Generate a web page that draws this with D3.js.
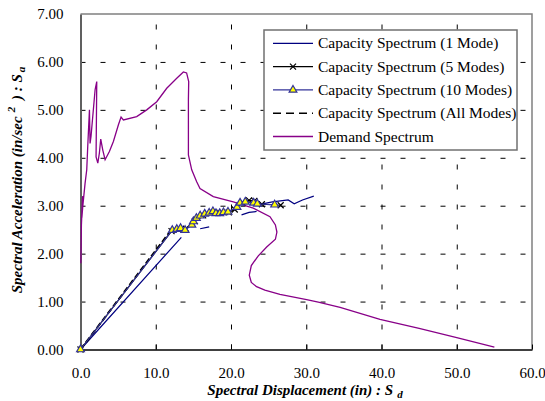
<!DOCTYPE html>
<html>
<head>
<meta charset="utf-8">
<script src="https://cdn.jsdelivr.net/npm/d3@7"></script>
<style>
    body { margin: 0; background: #fff; }
    svg { display: block; }
    svg text { font-family: "Liberation Serif", "Times New Roman", Times, "DejaVu Serif", serif; }
</style>
</head>
<body>
<svg id="chart"></svg>
<script>
// axis ticks
const xTicks = [0, 10, 20, 30, 40, 50, 60];
const yTicks = [0, 1, 2, 3, 4, 5, 6, 7];

const seriesNames = [
    'Capacity Spectrum (1 Mode)',
    'Capacity Spectrum (5 Modes)',
    'Capacity Spectrum (10 Modes)',
    'Capacity Spectrum (All Modes)',
    'Demand Spectrum'
];

// [Sd, Sa] pairs, null = gap in the line
const capacity1Mode = [[0, 0], [13.4, 2.34], null, [15.9, 2.52], [17.1, 2.56], null,
    [21.4, 2.81], [22.4, 2.86], [23.4, 2.88], null,
    [24.2, 3.04], [25.5, 3.08], [27.6, 3.12], [28.4, 3.04], [29.5, 3.12], [31.0, 3.20]];

const capacity5Modes = [[0, 0], [12.1, 2.47], [13.0, 2.50], [14.0, 2.52], [15.2, 2.68], [16.3, 2.80],
    [17.5, 2.86], [18.6, 2.85], [19.7, 2.86], [20.5, 2.92], [21.5, 3.07], [22.4, 3.11],
    [23.1, 3.10], [24.1, 3.03], [26.6, 3.01]];

const capacity10Modes = [[0, 0], [12.2, 2.49], [12.8, 2.51], [13.3, 2.53], [13.9, 2.49], [14.8, 2.60],
    [15.0, 2.67], [15.4, 2.74], [15.9, 2.79], [16.5, 2.83], [17.1, 2.85], [17.6, 2.88],
    [18.0, 2.84], [18.5, 2.84], [19.0, 2.86], [19.6, 2.87], [20.8, 2.97], [21.2, 3.06],
    [21.9, 3.08], [23.0, 3.06], [23.5, 3.04], [25.8, 3.02]];

const capacityAllModes = [[0, 0], [11.9, 2.46], [12.6, 2.50]];

const demandSpectrum = [[0.05, 1.80], [0.12, 2.60], [0.28, 3.20], [0.18, 2.75], [0.30, 2.98],
    [0.61, 3.47], [0.83, 3.75], [0.96, 4.23], [1.19, 5.00], [1.27, 4.30], [1.40, 4.45],
    [1.94, 5.42], [2.16, 5.59], [2.07, 4.02], [2.30, 3.89], [2.51, 4.10], [2.69, 4.39],
    [2.96, 4.16], [3.27, 3.96], [3.84, 4.13], [4.37, 4.34], [5.04, 4.69], [5.39, 4.85],
    [5.70, 4.79], [7.47, 4.86], [8.80, 5.00], [10.13, 5.17], [11.46, 5.45], [12.79, 5.66],
    [13.67, 5.79], [14.10, 5.77], [14.38, 5.59], [14.34, 5.21], [14.34, 4.06], [14.78, 3.75],
    [15.44, 3.50], [15.88, 3.36], [17.65, 3.19], [20.30, 3.08], [22.96, 2.95], [25.18, 2.77],
    [25.90, 2.60], [26.10, 2.45], [25.90, 2.30], [24.74, 2.14], [23.60, 1.95], [22.70, 1.75],
    [22.43, 1.55], [22.70, 1.40], [23.40, 1.31], [24.50, 1.24], [26.50, 1.15], [30.05, 1.04],
    [31.60, 0.99], [34.50, 0.88], [39.80, 0.63], [45.00, 0.44], [50.00, 0.25], [55.00, 0.05]];

const SERIF = '"Liberation Serif", "Times New Roman", Times, "DejaVu Serif", serif';

class SpectrumChart {
    constructor(_config) {
        this.config = {
            parentElement: _config.parentElement,
            containerWidth: _config.containerWidth || 545,
            containerHeight: _config.containerHeight || 401
        }
        this.config.margin = _config.margin || { top: 14, bottom: 51.5, right: 13, left: 80.5 };
    }

    initVis() {
        let vis = this;
        let m = vis.config.margin;

        vis.width = vis.config.containerWidth - m.left - m.right;
        vis.height = vis.config.containerHeight - m.top - m.bottom;

        vis.svg = d3.select(vis.config.parentElement)
            .attr('width', vis.config.containerWidth)
            .attr('height', vis.config.containerHeight)
            .attr('font-family', SERIF);

        vis.chart = vis.svg.append('g')
            .attr('transform', `translate(${m.left},${m.top})`);

        vis.xScale = d3.scaleLinear().domain([0, 60]).range([0, vis.width]);
        vis.yScale = d3.scaleLinear().domain([0, 7]).range([vis.height, 0]);

        vis.render();
    }

    render() {
        let vis = this;
        let x = vis.xScale, y = vis.yScale;

        // dashed grid
        let gy = vis.chart.append('g')
            .attr('class', 'grid-y')
            .call(d3.axisLeft(y).tickValues(yTicks.slice(1, -1)).tickSize(-vis.width).tickFormat(''));
        gy.select('.domain').remove();
        gy.selectAll('text').remove();
        gy.selectAll('line').attr('stroke', '#000').attr('stroke-dasharray', '5,15');

        let gx = vis.chart.append('g')
            .attr('class', 'grid-x')
            .attr('transform', `translate(0,${vis.height})`)
            .call(d3.axisBottom(x).tickValues(xTicks.slice(1, -1)).tickSize(-vis.height).tickFormat(''));
        gx.select('.domain').remove();
        gx.selectAll('text').remove();
        gx.selectAll('line').attr('stroke', '#000').attr('stroke-dasharray', '5,15');

        // top / right frame
        vis.chart.append('path')
            .attr('d', `M0,0H${vis.width}V${vis.height}`)
            .attr('fill', 'none')
            .attr('stroke', '#808080')
            .attr('stroke-width', 1.5);

        // x axis
        let xAxis = vis.chart.append('g')
            .attr('transform', `translate(0,${vis.height})`)
            .call(d3.axisBottom(x).tickValues(xTicks).tickFormat(d3.format('.1f'))
                .tickSizeInner(-5).tickSizeOuter(0).tickPadding(17.5));
        xAxis.attr('font-family', SERIF);
        xAxis.select('.domain').attr('stroke', '#000').attr('stroke-width', 1.5);
        xAxis.selectAll('text').attr('font-size', 15).attr('fill', '#000');

        // y axis
        let yAxis = vis.chart.append('g')
            .call(d3.axisLeft(y).tickValues(yTicks).tickFormat(d3.format('.2f'))
                .tickSize(0).tickPadding(17));
        yAxis.attr('font-family', SERIF);
        yAxis.select('.domain').attr('stroke', '#606060').attr('stroke-width', 2);
        yAxis.selectAll('text').attr('font-size', 15).attr('fill', '#000');

        let line = d3.line()
            .defined(d => d !== null)
            .x(d => x(d[0]))
            .y(d => y(d[1]));

        // demand
        vis.chart.append('path')
            .datum(demandSpectrum)
            .attr('d', line)
            .attr('fill', 'none')
            .attr('stroke', '#880088')
            .attr('stroke-width', 1.3);

        // 1 mode
        vis.chart.append('path')
            .datum(capacity1Mode)
            .attr('d', line)
            .attr('fill', 'none')
            .attr('stroke', '#000080')
            .attr('stroke-width', 1.2);

        // 5 modes
        vis.chart.append('path')
            .datum(capacity5Modes)
            .attr('d', line)
            .attr('fill', 'none')
            .attr('stroke', '#000')
            .attr('stroke-width', 1.2);
        vis.chart.selectAll('.mark-x')
            .data(capacity5Modes)
            .join('path')
            .attr('class', 'mark-x')
            .attr('transform', d => `translate(${x(d[0])},${y(d[1])})`)
            .attr('d', 'M-3,-3L3,3M-3,3L3,-3')
            .attr('stroke', '#000')
            .attr('stroke-width', 1.2);

        // all modes
        vis.chart.append('path')
            .datum(capacityAllModes)
            .attr('d', line)
            .attr('fill', 'none')
            .attr('stroke', '#000')
            .attr('stroke-width', 2)
            .attr('stroke-dasharray', '6,3');

        // 10 modes
        vis.chart.append('path')
            .datum(capacity10Modes)
            .attr('d', line)
            .attr('fill', 'none')
            .attr('stroke', '#333399')
            .attr('stroke-width', 1.2);
        vis.chart.selectAll('.mark-tri')
            .data(capacity10Modes)
            .join('path')
            .attr('class', 'mark-tri')
            .attr('transform', d => `translate(${x(d[0])},${y(d[1])})`)
            .attr('d', d3.symbol(d3.symbolTriangle).size(26))
            .attr('fill', '#ffff00')
            .attr('stroke', '#333399')
            .attr('stroke-width', 1.2);

        vis.renderLegend();
        vis.renderTitles();
    }

    renderLegend() {
        let vis = this;
        let lg = vis.svg.append('g').attr('transform', 'translate(264,30)');

        lg.append('rect')
            .attr('width', 253).attr('height', 120)
            .attr('fill', '#fff')
            .attr('stroke', '#707070')
            .attr('stroke-width', 1.5);

        let styles = [
            { stroke: '#000080', dash: null, mark: null },
            { stroke: '#000', dash: null, mark: 'x' },
            { stroke: '#333399', dash: null, mark: 'tri' },
            { stroke: '#000', dash: '8,5', mark: null },
            { stroke: '#880088', dash: null, mark: null }
        ];

        let rows = lg.selectAll('.row')
            .data(seriesNames)
            .join('g')
            .attr('class', 'row')
            .attr('transform', (d, i) => `translate(0,${13.3 + i * 23.3})`);

        rows.append('line')
            .attr('x1', 9).attr('x2', 49)
            .attr('stroke', (d, i) => styles[i].stroke)
            .attr('stroke-width', (d, i) => i == 3 ? 1.5 : 1.3)
            .attr('stroke-dasharray', (d, i) => styles[i].dash);

        rows.filter((d, i) => styles[i].mark == 'x')
            .append('path')
            .attr('transform', 'translate(29,0)')
            .attr('d', 'M-3,-3L3,3M-3,3L3,-3')
            .attr('stroke', '#000').attr('stroke-width', 1.2);

        rows.filter((d, i) => styles[i].mark == 'tri')
            .append('path')
            .attr('transform', 'translate(29,0)')
            .attr('d', d3.symbol(d3.symbolTriangle).size(26))
            .attr('fill', '#ffff00').attr('stroke', '#333399').attr('stroke-width', 1.2);

        rows.append('text')
            .attr('x', 54)
            .attr('dy', '0.33em')
            .attr('font-size', 15.5)
            .attr('font-family', SERIF)
            .text(d => d);
    }

    renderTitles() {
        let vis = this;

        let xt = vis.svg.append('text')
            .attr('x', 305).attr('y', 395)
            .attr('text-anchor', 'middle')
            .attr('font-family', SERIF)
            .attr('font-size', 15)
            .attr('font-weight', 'bold')
            .attr('font-style', 'italic');
        xt.append('tspan').text('Spectral Displacement (in) : S');
        xt.append('tspan').attr('dx', 4).attr('dy', 3).attr('font-size', 11).text('d');

        let yt = vis.svg.append('text')
            .attr('transform', 'translate(22,180) rotate(-90)')
            .attr('text-anchor', 'middle')
            .attr('font-family', SERIF)
            .attr('font-size', 15)
            .attr('font-weight', 'bold')
            .attr('font-style', 'italic');
        yt.append('tspan').text('Spectral Acceleration (in/sec');
        yt.append('tspan').attr('dx', 4).attr('dy', -7).attr('font-size', 11).text('2');
        yt.append('tspan').attr('dx', 3).attr('dy', 7).text(' ) : S');
        yt.append('tspan').attr('dx', 2).attr('dy', 3).attr('font-size', 11).text('a');
    }
}

let chart = new SpectrumChart({ parentElement: '#chart' });
chart.initVis();
</script>
</body>
</html>
